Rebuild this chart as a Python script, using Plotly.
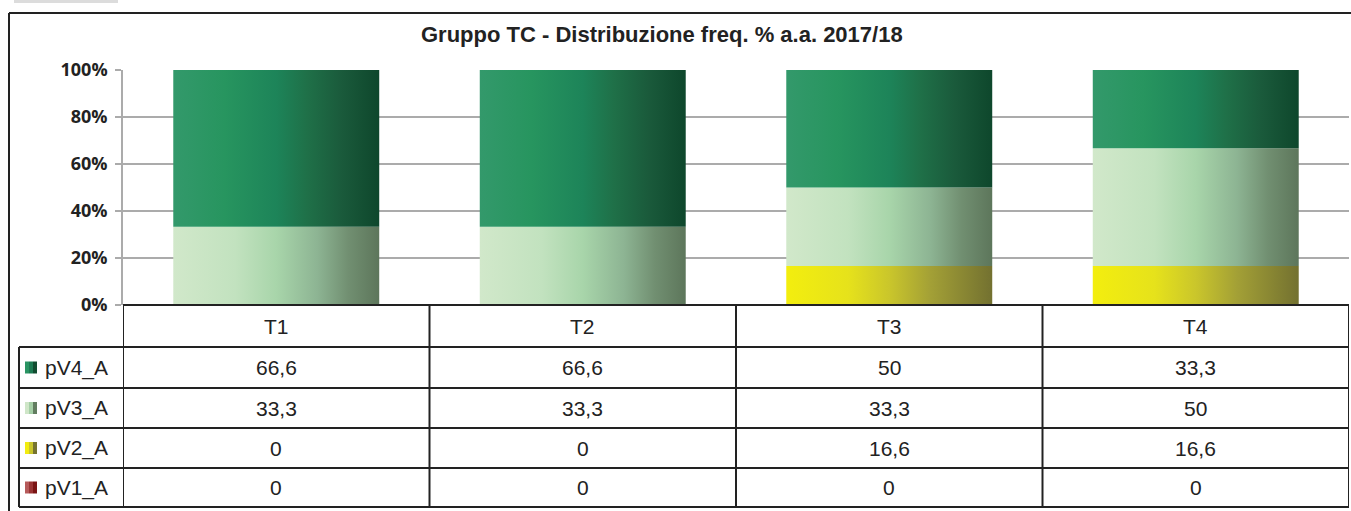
import plotly.graph_objects as go

# ---------------- data ----------------
categories = ["T1", "T2", "T3", "T4"]
series_names = ["pV4_A", "pV3_A", "pV2_A", "pV1_A"]   # table order (top to bottom)
pV4_A = [66.6, 66.6, 50, 33.3]
pV3_A = [33.3, 33.3, 33.3, 50]
pV2_A = [0, 0, 16.6, 16.6]
pV1_A = [0, 0, 0, 0]
y_ticks = [0, 20, 40, 60, 80, 100]
y_tick_labels = ["0%", "20%", "40%", "60%", "80%", "100%"]
title_text = "Gruppo TC - Distribuzione freq. % a.a. 2017/18"

series_values = {"pV4_A": pV4_A, "pV3_A": pV3_A, "pV2_A": pV2_A, "pV1_A": pV1_A}

# ---------------- styles ----------------
W, H = 1351, 511
gradients = {
    "pV4_A": [[0, "#33996b"], [0.25, "#27955f"], [0.5, "#1d8459"], [0.65, "#1f7048"],
              [0.82, "#1a5a3b"], [1, "#0e472c"]],
    "pV3_A": [[0, "#d1e8ca"], [0.3, "#c2e2bf"], [0.5, "#a8d5aa"], [0.7, "#8db493"],
              [0.85, "#718f71"], [1, "#5d765b"]],
    "pV2_A": [[0, "#f3ee0e"], [0.3, "#e6e21b"], [0.5, "#cac62b"], [0.7, "#a3a036"],
              [1, "#737130"]],
    "pV1_A": [[0, "#b85c5c"], [1, "#7a1414"]],
}
legend_steps = {
    "pV4_A": ["#2a9463", "#1d7a52", "#114c30"],
    "pV3_A": ["#cfe6c8", "#a5cfa6", "#627d60"],
    "pV2_A": ["#f2ec10", "#c9c52b", "#767430"],
    "pV1_A": ["#b65a5a", "#9a3434", "#7a1414"],
}
bar_width = 0.672
dark = "#222222"
grid = "#ababab"


def px(x):
    return x / W


def py(y):
    return 1 - y / H


plot_left, plot_right, plot_top, plot_bottom = 123, 1349, 70, 305
row_edges = [305, 347, 388, 428, 468, 507]
legend_left = 19

fig = go.Figure()

# stacked 100% columns with horizontal gradients, bottom to top
stack_order = ["pV1_A", "pV2_A", "pV3_A", "pV4_A"]
totals = [sum(series_values[s][i] for s in stack_order) for i in range(len(categories))]
base = [0.0] * len(categories)
for s in stack_order:
    for i, cat in enumerate(categories):
        v = series_values[s][i]
        if v <= 0 or totals[i] == 0:
            continue
        b = base[i]
        t = b + v / totals[i] * 100
        x0, x1 = i - bar_width / 2, i + bar_width / 2
        fig.add_trace(go.Scatter(
            x=[x0, x1, x1, x0, x0], y=[b, b, t, t, b],
            mode="lines", fill="toself", line=dict(width=0),
            fillgradient=dict(type="horizontal", colorscale=gradients[s]),
            name=s, showlegend=False, hoverinfo="text",
            text=f"{s} – {cat}: {str(v).replace('.', ',')}",
        ))
        base[i] = t

shapes = []
annotations = []

# top-left gray tab
shapes.append(dict(type="rect", xref="paper", yref="paper", x0=px(14), x1=px(118),
                   y0=py(3), y1=py(0), fillcolor="#dcdcdc", line=dict(width=0), layer="below"))
# outer chart border (left + top)
shapes.append(dict(type="line", xref="paper", yref="paper", x0=px(9), x1=px(9),
                   y0=py(13), y1=0, line=dict(color=dark, width=2)))
shapes.append(dict(type="line", xref="paper", yref="paper", x0=px(9), x1=1,
                   y0=py(13), y1=py(13), line=dict(color=dark, width=2)))

# table horizontal lines
shapes.append(dict(type="line", xref="paper", yref="paper", x0=px(plot_left), x1=px(plot_right),
                   y0=py(row_edges[0]), y1=py(row_edges[0]), line=dict(color=dark, width=2)))
for ry in row_edges[1:]:
    shapes.append(dict(type="line", xref="paper", yref="paper", x0=px(legend_left), x1=px(plot_right),
                       y0=py(ry), y1=py(ry), line=dict(color=dark, width=2)))
# table vertical lines at category boundaries
for i in range(len(categories) + 1):
    shapes.append(dict(type="line", xref="x", yref="paper", x0=i - 0.5, x1=i - 0.5,
                       y0=py(row_edges[0]), y1=py(row_edges[-1]), line=dict(color=dark, width=2)))
shapes.append(dict(type="line", xref="paper", yref="paper", x0=px(legend_left), x1=px(legend_left),
                   y0=py(row_edges[1]), y1=py(row_edges[-1]), line=dict(color=dark, width=2)))

cell_font = dict(family="Liberation Sans, Arial, sans-serif", size=21, color=dark)

# header row
for i, cat in enumerate(categories):
    annotations.append(dict(x=i, y=py((row_edges[0] + row_edges[1]) / 2), xref="x", yref="paper",
                            text=cat, showarrow=False, font=cell_font, xanchor="center", yanchor="middle"))


def fmt(v):
    return f"{v:g}".replace(".", ",")


for r, s in enumerate(series_names):
    yc = (row_edges[r + 1] + row_edges[r + 2]) / 2
    # legend key (stepped gradient square)
    steps = legend_steps[s]
    kx0, ksz = 25, 12
    for k, c in enumerate(steps):
        shapes.append(dict(type="rect", xref="paper", yref="paper",
                           x0=px(kx0 + k * ksz / len(steps)), x1=px(kx0 + (k + 1) * ksz / len(steps)),
                           y0=py(yc + ksz / 2), y1=py(yc - ksz / 2),
                           fillcolor=c, line=dict(width=0)))
    annotations.append(dict(x=px(43), y=py(yc), xref="paper", yref="paper", text=s, showarrow=False,
                            font=cell_font, xanchor="left", yanchor="middle"))
    for i, v in enumerate(series_values[s]):
        annotations.append(dict(x=i, y=py(yc), xref="x", yref="paper", text=fmt(v), showarrow=False,
                                font=cell_font, xanchor="center", yanchor="middle"))

# title
annotations.append(dict(x=px(662), y=py(34), xref="paper", yref="paper", text=f"<b>{title_text}</b>",
                        showarrow=False, xanchor="center", yanchor="middle",
                        font=dict(family="Liberation Sans, Arial, sans-serif", size=22, color=dark)))

fig.update_layout(
    width=W, height=H,
    margin=dict(l=0, r=0, t=0, b=0, pad=0, autoexpand=False),
    paper_bgcolor="white", plot_bgcolor="white",
    showlegend=False,
    shapes=shapes, annotations=annotations,
    xaxis=dict(domain=[px(plot_left), px(plot_right)], range=[-0.5, len(categories) - 0.5],
               showticklabels=False, showgrid=False, zeroline=False, showline=False, fixedrange=True,
               automargin=False),
    yaxis=dict(domain=[py(plot_bottom), py(plot_top)], range=[0, 100], tickmode="array",
               tickvals=y_ticks, ticktext=y_tick_labels,
               showgrid=True, gridcolor=grid, gridwidth=1.6, zeroline=False,
               showline=True, linecolor=grid, linewidth=1.6, ticks="outside", ticklen=6,
               tickcolor=grid, tickwidth=1.6, ticklabelstandoff=4, automargin=False,
               tickfont=dict(family="Open Sans, sans-serif", size=18, color=dark, weight="bold"),
               fixedrange=True),
)

fig.write_html("out.html", post_script="document.body.style.margin='0';",
               config={"displayModeBar": False})
